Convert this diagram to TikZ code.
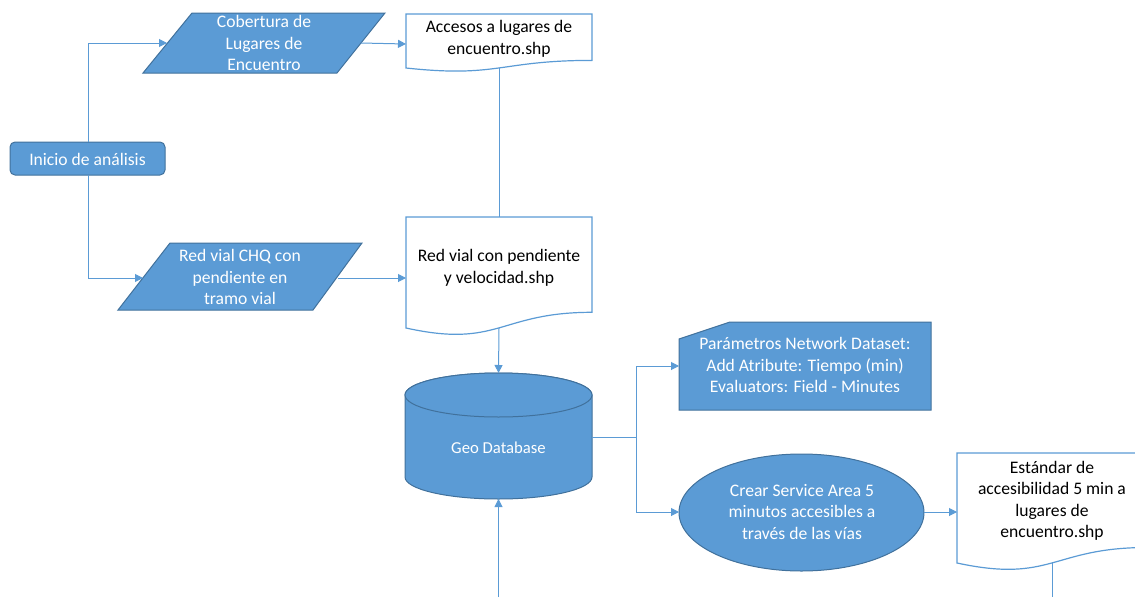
\documentclass[tikz,border=0pt]{standalone}
\usepackage{fontspec}
\setmainfont{Carlito}
\usetikzlibrary{arrows.meta}
\definecolor{blfill}{HTML}{5B9BD5}
\definecolor{bldraw}{HTML}{41719C}
\definecolor{bline}{HTML}{5B9BD5}
\tikzset{
  shapefill/.style={fill=blfill,draw=bldraw,line width=1pt},
  docshape/.style={fill=white,draw=bline,line width=1.2pt},
  lbl/.style={inner sep=0pt,align=center,font=\fontsize{17.6}{21.5}\selectfont},
  wlbl/.style={lbl,text=white},
  conn/.style={draw=bline,line width=1pt},
  arr/.style={conn,-{Triangle[length=8pt,width=8pt]}},
}
\begin{document}
\begin{tikzpicture}[x=1pt,y=-1pt]
\useasboundingbox (0,0) rectangle (1135,597);
% Inicio
\draw[shapefill,rounded corners=5pt] (10,142) rectangle (165,175);
\node[wlbl] (inicio) at (87.5,159) {Inicio de análisis};
\coordinate (inicioT) at (88,142);
\coordinate (inicioB) at (88,175);
% Parallelogram 1
\draw[shapefill] (192,13) -- (385,13) -- (337,73) -- (143,73) -- cycle;
\node[wlbl] (cob) at (264,43) {Cobertura de\\Lugares de\\Encuentro};
\coordinate (cobL) at (167,43);
\coordinate (cobR) at (361,43);
% Parallelogram 2
\draw[shapefill] (170,243) -- (362,243) -- (313,310) -- (118,310) -- cycle;
\node[wlbl] (red) at (240,277) {Red vial CHQ con\\pendiente en\\tramo vial};
\coordinate (redL) at (143,278);
\coordinate (redR) at (338,278);
% Document 1
\draw[docshape] (406,68) -- (406,14) -- (592,14) -- (592,60.4)
  .. controls (499,60.4) and (499,78) .. cycle;
\node[lbl] (acc) at (499,39) {Accesos a lugares de\\encuentro.shp};
\coordinate (accL) at (406,44);
\coordinate (accB) at (499,68.3);
% Document 2
\draw[docshape] (406,328) -- (406,217) -- (592,217) -- (592,312.3)
  .. controls (499,312.3) and (499,348.6) .. cycle;
\node[lbl] (rv) at (499,268) {Red vial con pendiente\\y velocidad.shp};
\coordinate (rvT) at (499,217);
\coordinate (rvL) at (406,278);
\coordinate (rvB) at (499,328);
% Cylinder
\draw[shapefill] (405,395) -- (405,477) arc[start angle=180,end angle=0,x radius=93.5,y radius=22]
  -- (592,395) arc[start angle=0,end angle=-180,x radius=93.5,y radius=22] -- cycle;
\draw[shapefill] (498.5,395) ellipse[x radius=93.5,y radius=22];
\node[wlbl,font=\fontsize{16.7}{20}\selectfont] (geo) at (498.5,448) {Geo Database};
\coordinate (geoT) at (498.5,373);
\coordinate (geoB) at (498.5,499);
\coordinate (geoR) at (592,437);
% Parametros card
\draw[shapefill] (730,322) -- (931,322) -- (931,410) -- (679,410) -- (679,339) -- cycle;
\node[wlbl] (par) at (805,365) {Parámetros Network Dataset:\\Add Atribute: Tiempo (min)\\Evaluators: Field - Minutes};
\coordinate (parL) at (679,366);
% Ellipse
\draw[shapefill] (801.5,512.5) ellipse[x radius=122.5,y radius=58.5];
\node[wlbl] (crear) at (802,512) {Crear Service Area 5\\minutos accesibles a\\través de las vías};
\coordinate (crearL) at (679,512);
\coordinate (crearR) at (924,512);
% Document 3
\draw[docshape] (957,563) -- (957,453) -- (1147,453) -- (1147,547.5)
  .. controls (1052,547.5) and (1052,583.5) .. cycle;
\node[lbl] (est) at (1052,501) {Estándar de\\accesibilidad 5 min a\\lugares de\\encuentro.shp};
\coordinate (estL) at (957,512);
\coordinate (estB) at (1052,562);
% bottom free ends
\coordinate (bottomA) at (498.5,597);
\coordinate (bottomB) at (1052,597);
% junction
\coordinate (jn) at (636,437);
% Connectors
\draw[arr] (inicioT) |- (cobL);
\draw[arr] (inicioB) |- (redL);
\draw[arr] (cobR) -- (accL);
\draw[arr] (redR) -- (rvL);
\draw[conn] (accB) -- (rvT);
\draw[arr] (rvB) -- (geoT);
\draw[arr] (bottomA) -- (geoB);
\draw[conn] (geoR) -- (jn);
\draw[arr] (jn) |- (parL);
\draw[arr] (jn) |- (crearL);
\draw[arr] (crearR) -- (estL);
\draw[conn] (estB) -- (bottomB);
\end{tikzpicture}
\end{document}
